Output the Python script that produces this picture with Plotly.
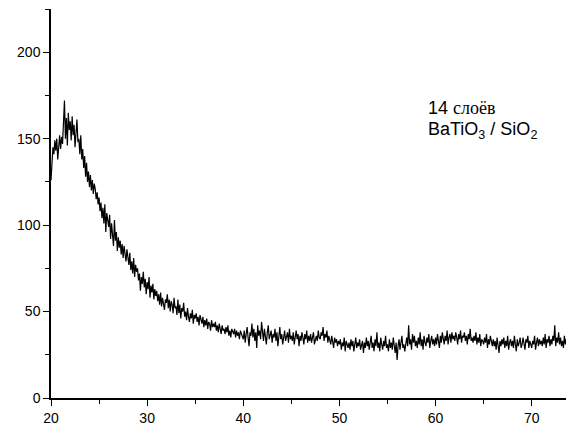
import plotly.graph_objects as go

x_start = 20.0
x_step = 0.1

intensity_20s = [
    126,138,145,141,149,143,150,138,147,152,
    144,151,147,158,172,150,162,146,165,155,
    160,149,163,152,158,145,154,161,148,150,
    141,152,138,144,133,140,128,136,125,131,
    122,129,120,126,118,124,121,115,119,112,
    116,108,113,104,110,101,112,96,107,103,
    99,106,92,101,95,88,103,91,96,85,
    93,87,91,83,89,81,88,84,79,86,
    80,77,84,74,79,72,81,70,77,73,
    75,68,72,62,70,66,73,64,69,60,
]
intensity_30s = [
    67,63,70,58,65,61,66,57,63,59,
    62,56,60,54,61,53,58,55,51,57,
    55,60,52,57,50,56,54,49,58,52,
    53,48,57,49,54,46,52,50,55,47,
    50,45,52,47,44,49,46,51,43,48,
    46,49,44,47,42,48,45,43,47,41,
    45,42,46,40,44,43,39,45,41,43,
    41,44,39,42,38,43,40,37,42,39,
    40,37,41,38,42,36,39,35,40,38,
    37,40,35,39,36,38,34,39,37,35,
]
intensity_40s = [
    34,39,32,37,41,35,30,38,36,43,
    35,40,33,38,29,42,36,39,34,44,
    37,33,40,35,31,38,42,34,36,39,
    32,37,35,40,33,38,30,36,41,34,
    37,31,36,39,33,35,38,32,40,34,
    36,33,38,31,35,39,34,37,30,36,
    33,38,35,31,37,34,39,32,36,33,
    37,32,35,38,31,34,36,33,39,35,
    34,38,36,41,33,37,35,39,32,36,
    34,31,36,33,29,35,32,34,30,33,
]
intensity_50s = [
    31,34,28,32,30,35,27,33,31,29,
    32,28,34,30,33,27,31,35,29,32,
    30,34,28,31,33,26,32,29,35,30,
    33,28,31,36,29,32,27,34,30,38,
    29,32,27,35,31,28,33,30,36,29,
    31,27,34,29,32,28,35,30,26,32,
    22,30,34,28,32,36,29,31,27,33,
    35,30,42,31,34,28,37,32,36,30,
    33,29,35,31,38,30,34,28,36,32,
    30,35,32,37,29,33,36,31,34,30,
]
intensity_60s = [
    35,31,37,33,29,36,32,38,34,31,
    36,33,39,31,35,37,32,38,34,36,
    33,38,35,31,37,34,39,32,36,35,
    38,33,36,31,37,34,40,33,35,32,
    36,33,38,31,35,32,37,30,34,33,
    31,35,32,37,29,34,31,36,33,30,
    34,30,33,28,35,31,26,33,30,34,
    31,35,29,33,30,36,28,32,34,30,
    33,29,36,31,27,34,30,32,35,29,
    31,35,30,28,34,32,36,29,33,31,
]
intensity_70s = [
    29,33,31,36,28,32,35,30,34,31,
    33,30,35,31,37,29,34,32,36,30,
    34,31,36,33,42,30,35,32,38,31,
    35,30,33,29,36,31,34,28,32,30,
    33,29,31,27,24,
]

intensity = (intensity_20s + intensity_30s + intensity_40s +
             intensity_50s + intensity_60s + intensity_70s)
two_theta = [round(x_start + i * x_step, 2) for i in range(len(intensity))]

x_ticks = [20, 30, 40, 50, 60, 70]
y_ticks = [0, 50, 100, 150, 200]

font_main = "Liberation Sans, Arial, sans-serif"

fig = go.Figure()
fig.add_trace(go.Scatter(
    x=two_theta, y=intensity, mode="lines",
    line=dict(color="black", width=1.2), showlegend=False,
))

fig.add_annotation(
    x=59.0, y=168, xref="x", yref="y", xanchor="left", yanchor="middle",
    text="14 <span style='font-family:Liberation Serif'>слоёв</span>",
    showarrow=False, font=dict(family=font_main, size=18, color="black"),
)
fig.add_annotation(
    x=59.0, y=155, xref="x", yref="y", xanchor="left", yanchor="middle",
    text="BaTiO<sub>3</sub> / SiO<sub>2</sub>",
    showarrow=False, font=dict(family=font_main, size=18, color="black"),
)

fig.update_layout(
    width=566, height=420,
    margin=dict(l=43, r=0, t=1, b=30),
    paper_bgcolor="white", plot_bgcolor="white",
    font=dict(family=font_main, size=14, color="black"),
)
fig.update_xaxes(
    range=[20, 74.4], tickvals=x_ticks, ticks="outside", ticklen=6, tickwidth=1,
    tickcolor="black", showline=True, linecolor="black", linewidth=1.5,
    showgrid=False, zeroline=False,
    minor=dict(tickmode="linear", tick0=25, dtick=10, ticks="outside",
               ticklen=4, tickcolor="black", showgrid=False),
)
fig.update_yaxes(
    range=[0, 225], tickvals=y_ticks, ticks="outside", ticklen=6, tickwidth=1,
    tickcolor="black", showline=True, linecolor="black", linewidth=1.5,
    showgrid=False, zeroline=False,
    minor=dict(tickmode="linear", tick0=25, dtick=50, ticks="outside",
               ticklen=4, tickcolor="black", showgrid=False),
)

fig.write_html("out.html")
